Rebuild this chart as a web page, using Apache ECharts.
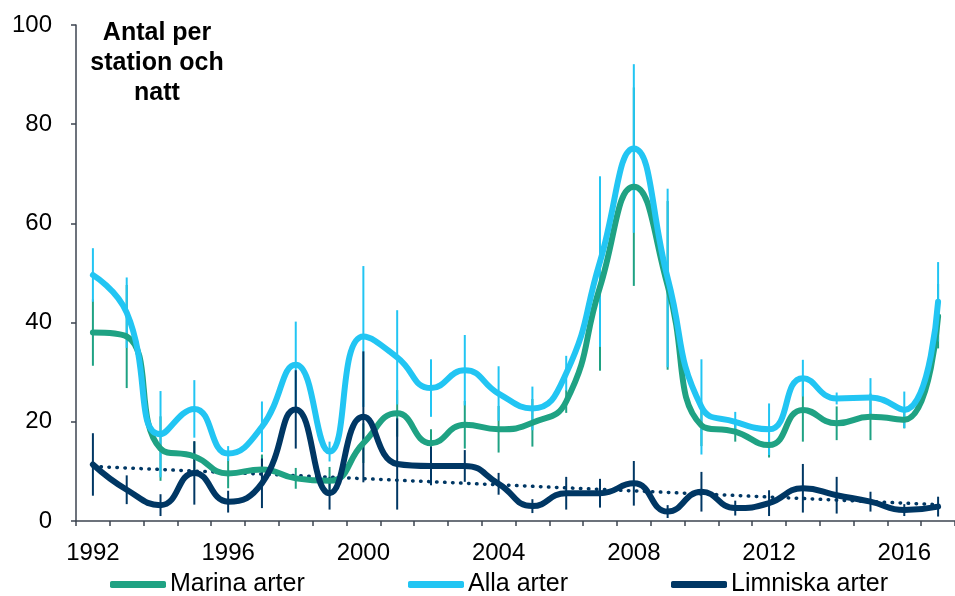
<!DOCTYPE html>
<html>
<head>
<meta charset="utf-8">
<script src="https://cdn.jsdelivr.net/npm/echarts@6/dist/echarts.min.js"></script>
<style>html,body{margin:0;padding:0;background:#fff}#c{width:955px;height:596px}</style>
</head>
<body>
<div id="c"></div>
<script>
const years = ['1992','1993','1994','1995','1996','1997','1998','1999','2000','2001','2002','2003','2004','2005','2006','2007','2008','2009','2010','2011','2012','2013','2014','2015','2016','2017'];
const yTicks = [0, 20, 40, 60, 80, 100];

const marina    = [38.0, 37.2, 14.6, 13.0, 9.6, 10.4, 8.6, 8.1, 15.7, 21.7, 15.7, 19.4, 18.5, 19.8, 24.1, 47.2, 67.4, 47.5, 19.3, 18.0, 15.3, 22.4, 19.7, 21.0, 20.4, 41.3];
const marinaErr = [6.7, 10.4, 6.5, 3.0, 3.0, 3.0, 2.1, 2.8, 4.0, 4.7, 2.8, 4.8, 4.7, 4.8, 2.3, 16.9, 20.0, 17.0, 4.2, 2.0, 2.5, 6.4, 3.4, 4.7, 1.7, 6.5];

const alla    = [49.6, 42.0, 17.5, 22.6, 13.6, 19.0, 31.5, 14.0, 37.2, 33.0, 26.8, 30.4, 25.7, 22.7, 29.8, 52.3, 75.1, 49.0, 23.0, 20.0, 18.5, 28.8, 24.7, 24.9, 22.4, 44.2];
const allaErr = [5.4, 7.1, 8.7, 5.8, 1.5, 5.1, 8.7, 2.0, 14.2, 9.5, 5.8, 7.1, 5.5, 4.4, 3.5, 17.2, 17.0, 18.0, 9.6, 2.0, 5.2, 3.7, 1.2, 3.9, 3.7, 8.0];

const limniska    = [11.4, 6.3, 3.2, 9.7, 3.9, 7.6, 22.5, 5.6, 21.0, 11.5, 11.1, 11.1, 7.5, 3.0, 5.6, 5.6, 7.6, 1.9, 5.9, 2.6, 3.6, 6.6, 5.2, 3.9, 2.2, 2.9];
const limniskaErr = [6.3, 2.9, 2.2, 6.4, 2.2, 5.0, 7.9, 3.3, 13.2, 9.2, 3.9, 3.2, 2.2, 1.4, 3.3, 2.9, 4.5, 1.3, 4.0, 1.5, 2.6, 4.9, 3.7, 2.0, 1.2, 2.0];

const trendStart = 11.0;
const trendEnd = 3.3;

const names = ['Marina arter', 'Alla arter', 'Limniska arter'];
const colors = ['#1fa283', '#22c5f3', '#003764'];
const FONT = '"Liberation Sans", Arial, sans-serif';

const trend = years.map((y, i) => i === 0 ? trendStart : (i === years.length - 1 ? trendEnd : null));

function errSeries(vals, errs, color) {
  return {
    type: 'custom',
    z: 1,
    silent: true,
    data: vals.map((v, i) => [i, v, errs[i]]),
    encode: {x: 0, y: 1},
    renderItem: function (params, api) {
      const i = api.value(0), v = api.value(1), e = api.value(2);
      const a = api.coord([i, v + e]);
      const b = api.coord([i, Math.max(0, v - e)]);
      return {type: 'line', shape: {x1: a[0], y1: a[1], x2: b[0], y2: b[1]}, style: {stroke: color, lineWidth: 2}};
    }
  };
}
function lineSeries(name, vals, color) {
  return {
    name: name, type: 'line', data: vals, smooth: 0.5, symbol: 'none', z: 3,
    lineStyle: {color: color, width: 6, cap: 'round', join: 'round'},
    itemStyle: {color: color}
  };
}
function legendAt(left, name) {
  return {
    data: [name], left: left, top: 572, padding: 0, icon: 'roundRect', itemWidth: 56, itemHeight: 7, itemGap: 0,
    textStyle: {fontFamily: FONT, fontSize: 25, color: '#000', padding: [0, 0, 0, -1]},
    selectedMode: false
  };
}

const chart = echarts.init(document.getElementById('c'), null, {renderer: 'canvas'});
chart.setOption({
  animation: false,
  backgroundColor: '#fff',
  grid: {left: 76, right: -6, top: 25, bottom: 75},
  xAxis: {
    type: 'category', data: years, boundaryGap: true,
    axisLine: {lineStyle: {color: '#3c4450', width: 1.5}},
    axisTick: {show: true, interval: 0, length: 5, lineStyle: {color: '#3c4450', width: 1.5}},
    axisLabel: {interval: 3, margin: 20, fontFamily: FONT, fontSize: 24, color: '#000'},
    splitLine: {show: false}
  },
  yAxis: {
    type: 'value', min: yTicks[0], max: yTicks[yTicks.length - 1], interval: 20,
    axisLine: {show: true, lineStyle: {color: '#3c4450', width: 1.5}},
    axisTick: {show: true, length: 5, lineStyle: {color: '#3c4450', width: 1.5}},
    axisLabel: {margin: 24, fontFamily: FONT, fontSize: 24, color: '#000'},
    splitLine: {show: false}
  },
  legend: [legendAt(110, names[0]), legendAt(408, names[1]), legendAt(671, names[2])],
  graphic: [{
    type: 'text', x: 157, y: 18, z: 10,
    style: {
      text: 'Antal per\nstation och\nnatt', align: 'center', verticalAlign: 'top',
      font: 'bold 25px ' + FONT, lineHeight: 30, fill: '#000'
    }
  }],
  series: [
    errSeries(marina, marinaErr, colors[0]),
    errSeries(alla, allaErr, colors[1]),
    errSeries(limniska, limniskaErr, colors[2]),
    lineSeries(names[0], marina, colors[0]),
    lineSeries(names[1], alla, colors[1]),
    lineSeries(names[2], limniska, colors[2]),
    {
      name: 'trend', type: 'line', data: trend, connectNulls: true, symbol: 'none', z: 2,
      lineStyle: {color: colors[2], width: 3.5, type: [0.5, 7.5], cap: 'round'}
    }
  ]
});
</script>
</body>
</html>
